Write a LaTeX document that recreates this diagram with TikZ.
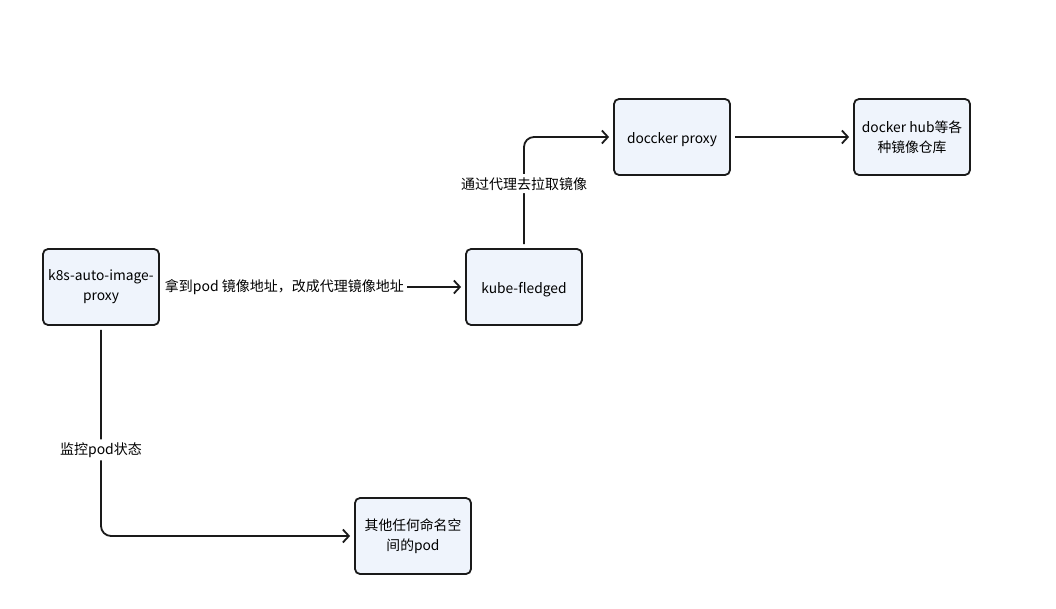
\documentclass[tikz,border=0pt]{standalone}
\usepackage{fontspec}
\setmainfont{Noto Sans CJK SC}
\usetikzlibrary{arrows.meta,positioning}
\definecolor{boxfill}{HTML}{EFF4FC}
\definecolor{edgecol}{HTML}{1A1A1A}

\begin{document}
\begin{tikzpicture}[x=1pt,y=-1pt,
  box/.style={draw=edgecol,line width=1.8pt,rounded corners=5pt,fill=boxfill,minimum width=116pt,minimum height=76pt,align=center,font=\fontsize{13.8}{20}\selectfont,inner sep=2pt,execute at begin node={\rule{0pt}{17pt}}},
  arr/.style={draw=edgecol,line width=1.8pt,rounded corners=10pt,shorten <=4pt,shorten >=4pt,-{Straight Barb[length=6pt,width=13pt]}},
  lbl/.style={fill=white,font=\fontsize{14}{18}\selectfont,inner sep=3pt}]
  \fill[white] (0,0) rectangle (1056,609);
  \useasboundingbox (0,0) rectangle (1056,609);
  \node[box] (k8s) at (101,287) {k8s-auto-image-\\proxy};
  \node[box] (kf) at (524,287) {kube-fledged};
  \node[box] (dp) at (672,137) {doccker proxy};
  \node[box] (hub) at (912,137) {docker hub等各\\种镜像仓库};
  \node[box] (pod) at (413,536) {其他任何命名空\\间的pod};
  \draw[arr] (k8s) -- node[lbl,pos=0.408] {拿到pod 镜像地址，改成代理镜像地址} (kf);
  \draw[arr] (kf.north) |- node[lbl,pos=0.29] {通过代理去拉取镜像} (dp.west);
  \draw[arr] (k8s.south) |- node[lbl,pos=0.295] {监控pod状态} (pod.west);
  \foreach \x/\y in {dp/hub} \draw[arr] (\x)--(\y);
\end{tikzpicture}
\end{document}
